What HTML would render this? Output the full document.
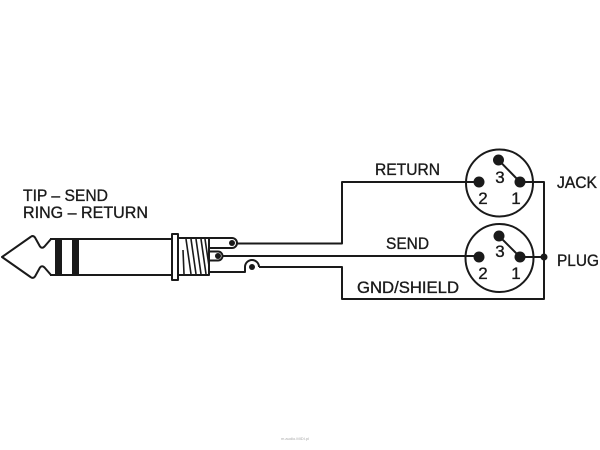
<!DOCTYPE html>
<html>
<head>
<meta charset="utf-8">
<style>
html,body{margin:0;padding:0;background:#fff;}
svg{display:block;}
text{font-family:"Liberation Sans",Arial,sans-serif;fill:#1a1a1a;stroke:#1a1a1a;stroke-width:0.35;}
</style>
</head>
<body>
<svg width="600" height="450" viewBox="0 0 600 450" xmlns="http://www.w3.org/2000/svg">
<rect width="600" height="450" fill="#fff"/>
<g fill="none" stroke="#1a1a1a" stroke-width="2" stroke-linejoin="round">
  <!-- tip -->
  <path d="M51,239 L44.5,246.5 Q42,249 40,246.5 L35,237.5 Q33,235 30.5,237 L2,257 L30.5,277 Q33,279 35,276.5 L40,267.5 Q42,265 44.5,267.5 L51,275"/>
  <!-- sleeve -->
  <line x1="50" y1="239" x2="172" y2="239"/>
  <line x1="50" y1="275" x2="172" y2="275"/>
  <!-- collar -->
  <rect x="172" y="234" width="6" height="46"/>
  <!-- thread body -->
  <rect x="178" y="238" width="31" height="37"/>
  <g stroke-width="1.6">
    <line x1="183" y1="250" x2="184" y2="274"/>
    <line x1="186" y1="239" x2="191" y2="274"/>
    <line x1="191" y1="239" x2="196" y2="274"/>
    <line x1="196" y1="239" x2="201" y2="274"/>
    <line x1="201" y1="239" x2="206" y2="274"/>
    <line x1="205" y1="239" x2="209" y2="266"/>
  </g>
  <!-- lugs -->
  <path d="M209,238 H232 A5,5 0 0 1 232,248 H209"/>
  <path d="M209,251.5 H218 A4.5,4.5 0 0 1 218,260.5 H209"/>
  <path d="M209,272 H245 V267 A7,7 0 0 1 259,267"/>
  <!-- wires -->
  <path d="M237,243.5 H342 V182 H479"/>
  <path d="M222.5,256 H479"/>
  <path d="M259,267 H342 V299 H544 V182 H520"/>
  <path d="M520,257 H544"/>
  <!-- XLR circles -->
  <circle cx="499.5" cy="183" r="33.5"/>
  <circle cx="499.5" cy="258" r="34"/>
  <line x1="498.5" y1="160" x2="520" y2="182"/>
  <line x1="499" y1="236" x2="520" y2="257"/>
</g>
<!-- black bands -->
<rect x="55" y="239" width="7" height="36" fill="#1a1a1a"/>
<rect x="72" y="239" width="7" height="36" fill="#1a1a1a"/>
<!-- dots -->
<g fill="#1a1a1a">
  <circle cx="232" cy="243" r="3"/>
  <circle cx="218" cy="256" r="3"/>
  <circle cx="252" cy="267" r="3"/>
  <circle cx="479" cy="182" r="5.5"/>
  <circle cx="520" cy="182" r="5.5"/>
  <circle cx="498.5" cy="160" r="5.5"/>
  <circle cx="479" cy="257" r="5.5"/>
  <circle cx="520" cy="257" r="5.5"/>
  <circle cx="499" cy="236" r="5.5"/>
  <circle cx="544" cy="257" r="3.5"/>
</g>
<!-- labels -->
<g font-size="17">
  <text x="23" y="201" textLength="85" lengthAdjust="spacingAndGlyphs">TIP – SEND</text>
  <text x="23" y="218" textLength="125" lengthAdjust="spacingAndGlyphs">RING – RETURN</text>
  <text x="375" y="175" textLength="65" lengthAdjust="spacingAndGlyphs">RETURN</text>
  <text x="386" y="249" textLength="43" lengthAdjust="spacingAndGlyphs">SEND</text>
  <text x="357" y="293" textLength="102" lengthAdjust="spacingAndGlyphs">GND/SHIELD</text>
  <text x="557" y="188" textLength="40" lengthAdjust="spacingAndGlyphs">JACK</text>
  <text x="557" y="266" textLength="42" lengthAdjust="spacingAndGlyphs">PLUG</text>
  <text x="500" y="183" text-anchor="middle">3</text>
  <text x="483" y="204" text-anchor="middle">2</text>
  <text x="516" y="204" text-anchor="middle">1</text>
  <text x="500" y="257" text-anchor="middle">3</text>
  <text x="483" y="279" text-anchor="middle">2</text>
  <text x="516" y="279" text-anchor="middle">1</text>
</g>
<text x="295" y="440" font-size="4" text-anchor="middle" style="fill:#aaa;stroke:none">m.audio.MIDI.pl</text>
</svg>
</body>
</html>
